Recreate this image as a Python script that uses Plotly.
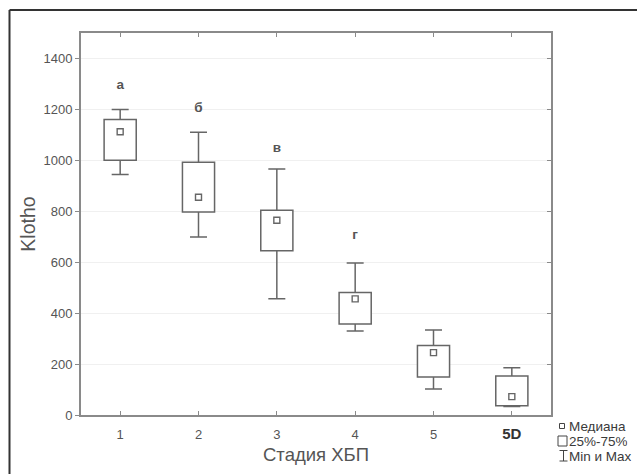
import plotly.graph_objects as go

# ---- data ----
stages = ["1", "2", "3", "4", "5", "5D"]
positions = [1, 2, 3, 4, 5, 6]
v_min = [944, 699, 456, 330, 102, 33]
v_q1 = [1000, 797, 645, 357, 149, 36]
v_median = [1112, 855, 765, 456, 245, 72]
v_q3 = [1160, 992, 804, 481, 273, 153]
v_max = [1200, 1110, 966, 597, 334, 186]
letter_pos = [1, 2, 3, 4]
letters = ["а", "б", "в", "г"]
letter_y = [1295, 1203, 1046, 705]
y_ticks = [0, 200, 400, 600, 800, 1000, 1200, 1400]
legend_labels = ["Медиана", "25%-75%", "Min и Max"]

W, H = 637, 474
L, R, T, B = 81, 86, 33, 59
PW, PH = W - L - R, H - T - B

def px(x):
    return (x - L) / PW

def py(y):
    return (H - B - y) / PH

FONT = "Liberation Sans, Arial, sans-serif"
BOXC = "#666666"
AXC = "#8a8a8a"
TXT = "#555555"
LW = 1.5

fig = go.Figure()

# 25%-75% boxes
fig.add_trace(go.Bar(
    x=positions, base=v_q1, y=[q3 - q1 for q1, q3 in zip(v_q1, v_q3)],
    width=0.41, marker=dict(color="white", line=dict(color=BOXC, width=LW)),
    showlegend=False, hoverinfo="skip",
))

# whisker stems (no caps)
fig.add_trace(go.Scatter(
    x=positions, y=v_q3, mode="markers", marker=dict(opacity=0),
    error_y=dict(type="data", symmetric=False, array=[mx - q3 for mx, q3 in zip(v_max, v_q3)],
                 arrayminus=[0] * len(v_q3), width=0, thickness=LW, color=BOXC),
    showlegend=False, hoverinfo="skip",
))
fig.add_trace(go.Scatter(
    x=positions, y=v_q1, mode="markers", marker=dict(opacity=0),
    error_y=dict(type="data", symmetric=False, array=[0] * len(v_q1),
                 arrayminus=[q1 - mn for q1, mn in zip(v_q1, v_min)], width=0, thickness=LW, color=BOXC),
    showlegend=False, hoverinfo="skip",
))
# whisker caps at min and max
for ends in (v_max, v_min):
    fig.add_trace(go.Scatter(
        x=positions, y=ends, mode="markers", marker=dict(opacity=0),
        error_y=dict(type="data", array=[0] * len(ends), width=8.5, thickness=LW, color=BOXC),
        showlegend=False, hoverinfo="skip",
    ))

# medians
fig.add_trace(go.Scatter(
    x=positions, y=v_median, mode="markers",
    marker=dict(symbol="square-open", size=6, color=BOXC, line=dict(width=1.4, color=BOXC)),
    showlegend=False, hoverinfo="skip",
))

# group letters
fig.add_trace(go.Scatter(
    x=letter_pos, y=letter_y, mode="text", text=[f"<b>{t}</b>" for t in letters],
    textfont=dict(family=FONT, size=13.5, color=TXT),
    showlegend=False, hoverinfo="skip",
))

# invisible trace for right mirror axis
fig.add_trace(go.Scatter(x=[1], y=[0], yaxis="y2", mode="markers",
                         marker=dict(opacity=0), showlegend=False, hoverinfo="skip"))

ticktext = stages[:-1] + ['<span style="font-size:15px;color:#333"><b>%s</b></span>' % stages[-1]]

fig.update_layout(
    width=W, height=H,
    margin=dict(l=L, r=R, t=T, b=B, pad=0, autoexpand=False),
    paper_bgcolor="white", plot_bgcolor="white",
    font=dict(family=FONT, color=TXT),
    xaxis=dict(
        range=[0.5, 6.5], tickmode="array", tickvals=positions, ticktext=ticktext,
        showline=True, linecolor=AXC, linewidth=2, mirror="ticks",
        ticks="inside", ticklen=4, tickcolor=AXC, tickwidth=1,
        showgrid=False, zeroline=False, automargin=False,
        tickfont=dict(family=FONT, size=13, color=TXT), ticklabelstandoff=6,
        title=dict(text="Стадия ХБП", font=dict(family=FONT, size=18.5, color=TXT), standoff=7),
    ),
    yaxis=dict(
        range=[0, 1500], tickmode="array", tickvals=y_ticks,
        showline=True, linecolor=AXC, linewidth=2, mirror=True,
        ticks="outside", ticklen=4, tickcolor=AXC, tickwidth=1,
        showgrid=True, gridcolor="#f0f0f0", gridwidth=1, zeroline=False, automargin=False,
        tickfont=dict(family=FONT, size=13, color=TXT),
        title=dict(text="Klotho", font=dict(family=FONT, size=19.5, color=TXT), standoff=3),
    ),
    yaxis2=dict(
        range=[0, 1500], tickmode="array", tickvals=y_ticks, overlaying="y", side="right",
        showline=False, ticks="inside", ticklen=4, tickcolor=AXC, tickwidth=1,
        showticklabels=False, showgrid=False, zeroline=False, automargin=False,
    ),
)

shapes = []
# outer frame (left and top edges)
shapes.append(dict(type="line", xref="paper", yref="paper", x0=px(9.5), x1=px(9.5), y0=py(480), y1=py(10),
                   line=dict(color="#333333", width=2)))
shapes.append(dict(type="line", xref="paper", yref="paper", x0=px(9.5), x1=px(645), y0=py(10), y1=py(10),
                   line=dict(color="#333333", width=2)))
# legend symbols
LC = "#444444"
shapes.append(dict(type="rect", xref="paper", yref="paper", x0=px(559.5), x1=px(564.5), y0=py(428.5), y1=py(423.5),
                   line=dict(color=LC, width=1)))
shapes.append(dict(type="rect", xref="paper", yref="paper", x0=px(558), x1=px(567), y0=py(446), y1=py(436),
                   line=dict(color=LC, width=1)))
shapes.append(dict(type="line", xref="paper", yref="paper", x0=px(563.5), x1=px(563.5), y0=py(461), y1=py(450.5),
                   line=dict(color=LC, width=1)))
shapes.append(dict(type="line", xref="paper", yref="paper", x0=px(559.5), x1=px(567.5), y0=py(450.5), y1=py(450.5),
                   line=dict(color=LC, width=1)))
shapes.append(dict(type="line", xref="paper", yref="paper", x0=px(559.5), x1=px(567.5), y0=py(461), y1=py(461),
                   line=dict(color=LC, width=1)))
fig.update_layout(shapes=shapes)

for lbl, yc in zip(legend_labels, [426, 441, 456]):
    fig.add_annotation(xref="paper", yref="paper", x=px(568), y=py(yc), text=lbl, showarrow=False,
                       xanchor="left", yanchor="middle", height=14, borderpad=0,
                       font=dict(family=FONT, size=13.5, color="#3a3a3a"))

fig.write_html("out.html", config={"displayModeBar": False},
               post_script="document.body.style.margin='0';document.body.style.overflow='hidden';")
